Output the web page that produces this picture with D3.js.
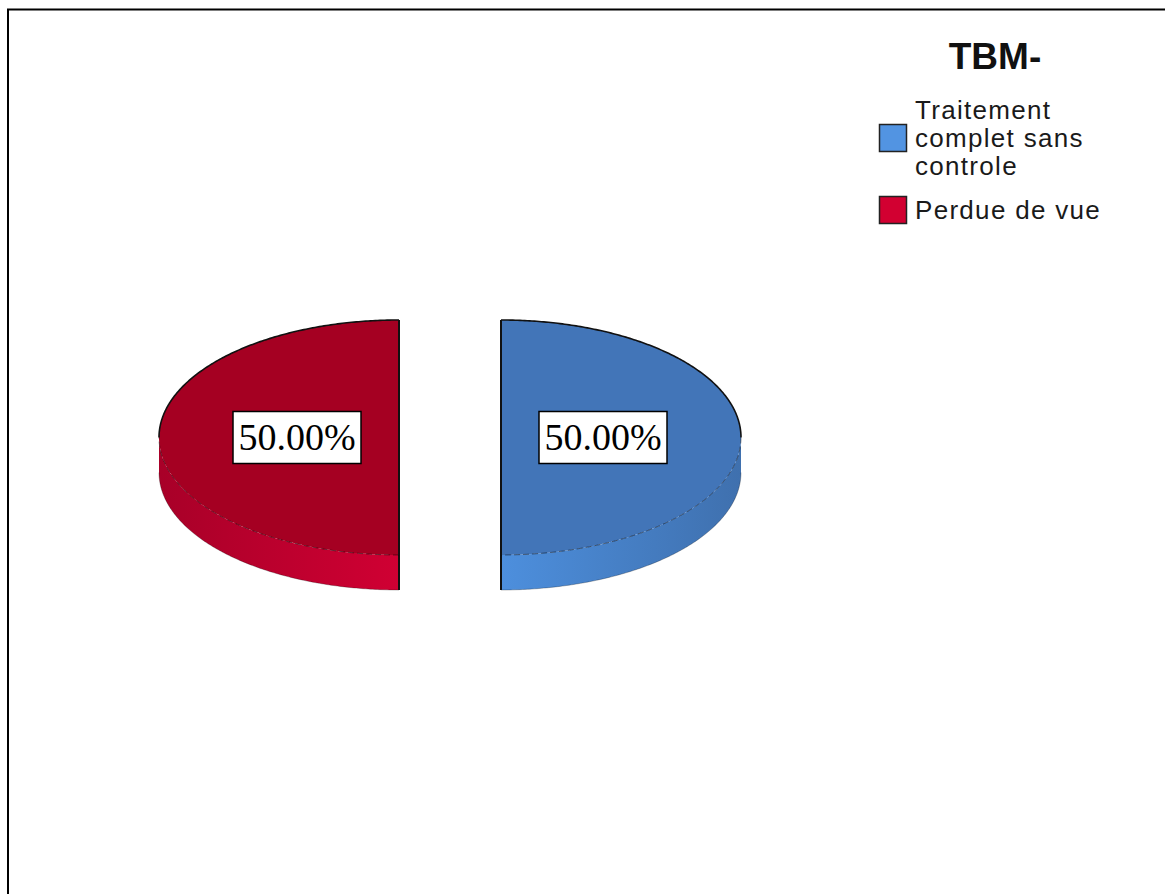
<!DOCTYPE html>
<html>
<head>
<meta charset="utf-8">
<script src="https://cdn.jsdelivr.net/npm/d3@7"></script>
<style>
  html, body { margin: 0; padding: 0; background: #fff; }
  svg { display: block; }
</style>
</head>
<body>
<svg id="chart" width="1165" height="894"></svg>
<script>
// Categories, values and colours of the pie
const categories = ["Traitement complet sans controle", "Perdue de vue"];
const legendLines = [["Traitement", "complet sans", "controle"], ["Perdue de vue"]];
const values = [50, 50];
const topColors = ["#4275b8", "#a50022"];
const sideLight = ["#4d8fdd", "#d00033"];
const sideDark = ["#3f70ae", "#a80028"];
const swatchColors = ["#5294e2", "#d20031"];
const chartTitle = "TBM-";

const svg = d3.select("#chart");

// Outer frame
svg.append("rect")
  .attr("x", 8).attr("y", 9.5)
  .attr("width", 1300).attr("height", 1000)
  .attr("fill", "none").attr("stroke", "#000").attr("stroke-width", 2);

// Pie geometry (tilted ellipse)
const cx = 450, cy = 437.5, rx = 240, ry = 117.5, depth = 35, explode = 51;
const labelFrac = 0.425;

const total = d3.sum(values);
const pie = d3.pie().sort(null).startAngle(0).endAngle(2 * Math.PI);
const arcs = pie(values);
const pctFmt = d3.format(".2f");

// angle measured clockwise from 12 o'clock
const px = (a, r = 1) => rx * r * Math.sin(a);
const py = (a, r = 1) => -ry * r * Math.cos(a);

const defs = svg.append("defs");

function arcPoints(a0, a1, ox, oy, dy = 0) {
  const n = Math.max(8, Math.ceil((a1 - a0) / 0.01));
  return d3.range(n + 1).map(i => {
    const a = a0 + (a1 - a0) * i / n;
    return [ox + px(a), oy + py(a) + dy];
  });
}

const line = d3.line();

arcs.forEach((d, i) => {
  const mid = (d.startAngle + d.endAngle) / 2;
  const ox = cx + explode * Math.sin(mid);
  const oy = cy - explode * (ry / rx) * Math.cos(mid);
  const g = svg.append("g").attr("class", "slice");

  // Visible outer wall: the front half of the rim
  const s0 = Math.max(d.startAngle, Math.PI / 2);
  const s1 = Math.min(d.endAngle, 3 * Math.PI / 2);
  if (s1 > s0) {
    const grad = defs.append("linearGradient")
      .attr("id", "side" + i)
      .attr("gradientUnits", "userSpaceOnUse")
      .attr("x1", ox).attr("y1", 0)
      .attr("x2", ox + px(mid)).attr("y2", 0);
    grad.append("stop").attr("offset", "0%").attr("stop-color", sideLight[i]);
    grad.append("stop").attr("offset", "100%").attr("stop-color", sideDark[i]);

    const upper = arcPoints(s0, s1, ox, oy);
    const lower = arcPoints(s0, s1, ox, oy, depth).reverse();
    g.append("path")
      .attr("d", line(upper.concat(lower)) + "Z")
      .attr("fill", `url(#side${i})`)
      .attr("stroke", "none");
    // lower rim edge
    g.append("path")
      .attr("d", line(arcPoints(s0, s1, ox, oy, depth)))
      .attr("fill", "none").attr("stroke", "rgba(0,0,0,0.25)").attr("stroke-width", 1);
    // cut edge running down the wall
    g.append("line")
      .attr("x1", ox).attr("x2", ox)
      .attr("y1", oy + py(Math.PI)).attr("y2", oy + py(Math.PI) + depth)
      .attr("stroke", "#111").attr("stroke-width", 2);
  }

  // Top face
  const pts = [[ox, oy]].concat(arcPoints(d.startAngle, d.endAngle, ox, oy));
  g.append("path")
    .attr("d", line(pts) + "Z")
    .attr("fill", topColors[i])
    .attr("stroke", "none");
  // back rim outline (upper half), front rim seam and cut edge
  const backA = d.startAngle < Math.PI ? [d.startAngle, Math.min(d.endAngle, Math.PI / 2)] : [Math.max(d.startAngle, 3 * Math.PI / 2), d.endAngle];
  g.append("path")
    .attr("d", line(arcPoints(backA[0], backA[1], ox, oy)))
    .attr("fill", "none").attr("stroke", "#111").attr("stroke-width", 1.6);
  g.append("path")
    .attr("d", line(arcPoints(s0, s1, ox, oy)))
    .attr("fill", "none").attr("stroke", "rgba(0,0,0,0.45)")
    .attr("stroke-width", 1).attr("stroke-dasharray", "6,3");
  g.append("line")
    .attr("x1", ox).attr("x2", ox)
    .attr("y1", oy - ry).attr("y2", oy + ry)
    .attr("stroke", "#111").attr("stroke-width", 2);

  // Percentage label in a boxed frame
  const lx = ox + px(mid, labelFrac);
  const ly = oy + py(mid, labelFrac);
  const txt = pctFmt(d.value / total * 100) + "%";
  const lg = svg.append("g").attr("transform", `translate(${lx},${ly})`);
  const bw = 128, bh = 52;
  lg.append("rect")
    .attr("x", -bw / 2).attr("y", -bh / 2)
    .attr("width", bw).attr("height", bh)
    .attr("fill", "#fff").attr("stroke", "#000").attr("stroke-width", 1.5);
  lg.append("text")
    .attr("text-anchor", "middle")
    .attr("y", 12)
    .attr("font-family", "'Liberation Serif', 'Times New Roman', serif")
    .attr("font-size", 38)
    .attr("fill", "#000")
    .text(txt);
});

// Legend
const legend = svg.append("g").attr("font-family", "'Liberation Sans', Arial, sans-serif");
legend.append("text")
  .attr("x", 995).attr("y", 69)
  .attr("text-anchor", "middle")
  .attr("font-weight", "bold")
  .attr("font-size", 37)
  .attr("fill", "#111")
  .text(chartTitle);

const itemTop = [97, 197];
categories.forEach((c, i) => {
  const lines = legendLines[i];
  const n = lines.length;
  const textTop = itemTop[i];
  const blockH = n * 28;
  const sy = textTop + blockH / 2 - 14.5;
  legend.append("rect")
    .attr("x", 879.5).attr("y", sy)
    .attr("width", 27).attr("height", 27)
    .attr("fill", swatchColors[i]).attr("stroke", "#222").attr("stroke-width", 1.5);
  lines.forEach((t, j) => {
    legend.append("text")
      .attr("x", 915).attr("y", textTop + 22 + j * 28)
      .attr("font-size", 26)
      .attr("letter-spacing", 1.3)
      .attr("fill", "#1a1a1a")
      .text(t);
  });
});
</script>
</body>
</html>
